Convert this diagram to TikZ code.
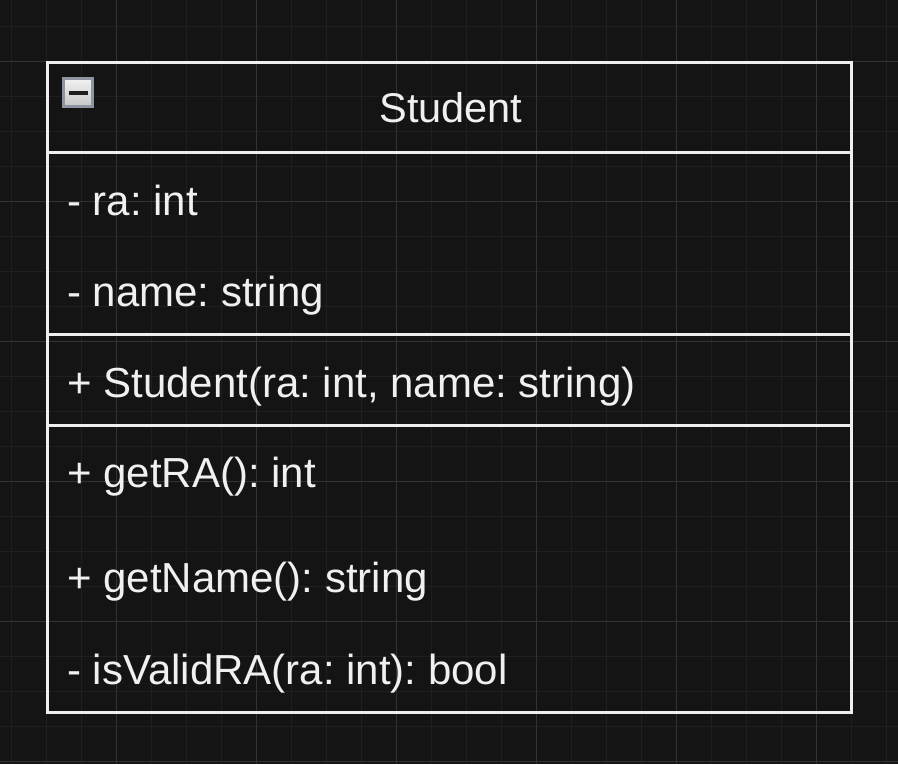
\documentclass[tikz,border=0pt]{standalone}
\usepackage{fontspec}
\setmainfont{Liberation Sans}
\definecolor{bgc}{HTML}{141414}
\definecolor{minorc}{HTML}{1F1F1F}
\definecolor{majorc}{HTML}{333333}
\definecolor{linec}{HTML}{EEEEEE}
\definecolor{textc}{HTML}{F0F0F0}
\definecolor{iconedge}{HTML}{8E95A2}
\definecolor{icontop}{HTML}{F2F2F2}
\definecolor{iconbot}{HTML}{C6C6C6}
\definecolor{iconbar}{HTML}{1E1E1E}
\frenchspacing
\begin{document}
\begin{tikzpicture}[x=1pt,y=-1pt,
  boxline/.style={draw=linec,line width=3pt},
  member/.style={anchor=base west,inner sep=0pt,text=textc,font=\fontsize{42}{50}\selectfont},
  title/.style={anchor=base,inner sep=0pt,text=textc,font=\fontsize{41.5}{49}\selectfont}]
\useasboundingbox (0,0) rectangle (898,764);
\fill[bgc] (0,0) rectangle (898,764);
% grid
\foreach \i in {0,...,25}{
  \draw[minorc,line width=1pt] ({11+35*\i},0) -- ({11+35*\i},764);
}
\foreach \j in {0,...,22}{
  \draw[minorc,line width=1pt] (0,{26+35*\j}) -- (898,{26+35*\j});
}
\foreach \i in {0,...,5}{
  \draw[majorc,line width=1pt] ({116+140*\i},0) -- ({116+140*\i},764);
}
\foreach \j in {0,...,5}{
  \draw[majorc,line width=1pt] (0,{61+140*\j}) -- (898,{61+140*\j});
}
% class box
\coordinate (tl) at (47,62);
\coordinate (br) at (851,712);
\draw[boxline] (tl) rectangle (br);
\coordinate (s1l) at (47,152); \coordinate (s1r) at (851,152);
\coordinate (s2l) at (47,334); \coordinate (s2r) at (851,334);
\coordinate (s3l) at (47,425.5); \coordinate (s3r) at (851,425.5);
\draw[boxline] (s1l) -- (s1r);
\draw[boxline] (s2l) -- (s2r);
\draw[boxline] (s3l) -- (s3r);
% collapse icon
\coordinate (ia) at (63.5,78.5);
\coordinate (ib) at (92.5,106.5);
\shade[top color=icontop,bottom color=iconbot] (ia) rectangle (ib);
\draw[iconedge,line width=3pt] (ia) rectangle (ib);
\coordinate (ma) at (68.5,92.5);
\coordinate (mb) at (87.5,92.5);
\draw[iconbar,line width=4pt] (ma) -- (mb);
% texts
\node[title] (name) at (451,122) {Student};
\node[member] (a1) at (67,215) {- ra: int};
\node[member] (a2) at (67,306) {- name: string};
\node[member] (c1) at (67,397) {+ Student(ra: int, name: string)};
\node[member] (m1) at (67,487) {+ getRA(): int};
\node[member] (m2) at (67,592) {+ getName(): string};
\node[member] (m3) at (67,684) {- isValidRA(ra: int): bool};
\end{tikzpicture}
\end{document}
